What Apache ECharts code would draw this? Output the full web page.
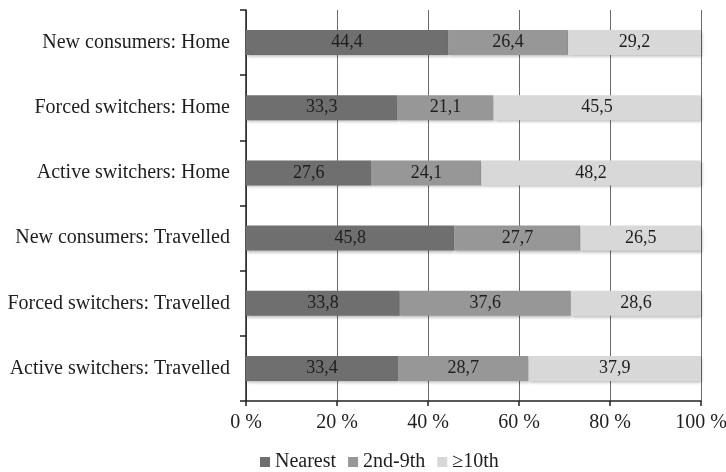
<!DOCTYPE html>
<html>
<head>
<meta charset="utf-8">
<script src="https://cdn.jsdelivr.net/npm/echarts@6/dist/echarts.min.js"></script>
<style>
  html, body { margin: 0; padding: 0; background: #fff; }
  #chart { width: 726px; height: 472px; }
</style>
</head>
<body>
<div id="chart"></div>
<script>
// Consumer groups, top to bottom
const categories = [
  'New consumers: Home',
  'Forced switchers: Home',
  'Active switchers: Home',
  'New consumers: Travelled',
  'Forced switchers: Travelled',
  'Active switchers: Travelled'
];
// Share (%) by rank of the chosen station
const nearest = [44.4, 33.3, 27.6, 45.8, 33.8, 33.4];
const second9 = [26.4, 21.1, 24.1, 27.7, 37.6, 28.7];
const tenthPlus = [29.2, 45.5, 48.2, 26.5, 28.6, 37.9];
const seriesNames = ['Nearest', '2nd-9th', '\u226510th'];
const tickValues = [0, 20, 40, 60, 80, 100];

const font = 'Liberation Serif, Times New Roman, serif';
const colors = ['#6f6f6f', '#979797', '#d8d8d8'];

const mk = (name, data, color) => ({
  name,
  type: 'bar',
  stack: 'total',
  data,
  barWidth: 25,
  itemStyle: {
    color,
    shadowColor: 'rgba(0,0,0,0.28)',
    shadowBlur: 3,
    shadowOffsetX: 1,
    shadowOffsetY: 2
  },
  label: {
    show: true,
    position: 'inside',
    color: '#1e1e1e',
    fontFamily: font,
    fontSize: 18,
    formatter: p => p.value.toFixed(1).replace('.', ',')
  }
});

const chart = echarts.init(document.getElementById('chart'));
chart.setOption({
  animation: false,
  backgroundColor: '#fff',
  grid: { left: 246, right: 25, top: 10, bottom: 71, outerBoundsMode: 'none' },
  legend: {
    top: 447,
    left: 255,
    itemWidth: 10,
    itemHeight: 10,
    itemGap: 12,
    icon: 'rect',
    textStyle: { fontFamily: font, fontSize: 20, color: '#1e1e1e' },
    data: seriesNames
  },
  xAxis: {
    type: 'value',
    min: tickValues[0],
    max: tickValues[tickValues.length - 1],
    interval: 20,
    axisLine: { show: true, lineStyle: { color: '#222', width: 1.5 } },
    axisTick: { show: true, length: 5, lineStyle: { color: '#222', width: 1.5 } },
    splitLine: { show: true, lineStyle: { color: '#6a6a6a', width: 1 } },
    axisLabel: {
      fontFamily: font, fontSize: 20, color: '#1e1e1e', margin: 12,
      formatter: v => v + ' %'
    }
  },
  yAxis: {
    type: 'category',
    inverse: true,
    data: categories,
    axisLine: { show: true, lineStyle: { color: '#222', width: 1.5 } },
    axisTick: { show: true, length: 6, lineStyle: { color: '#222', width: 1.5 } },
    axisLabel: { fontFamily: font, fontSize: 20, color: '#1e1e1e', margin: 16 }
  },
  series: [
    mk(seriesNames[0], nearest, colors[0]),
    mk(seriesNames[1], second9, colors[1]),
    mk(seriesNames[2], tenthPlus, colors[2])
  ]
});
</script>
</body>
</html>
